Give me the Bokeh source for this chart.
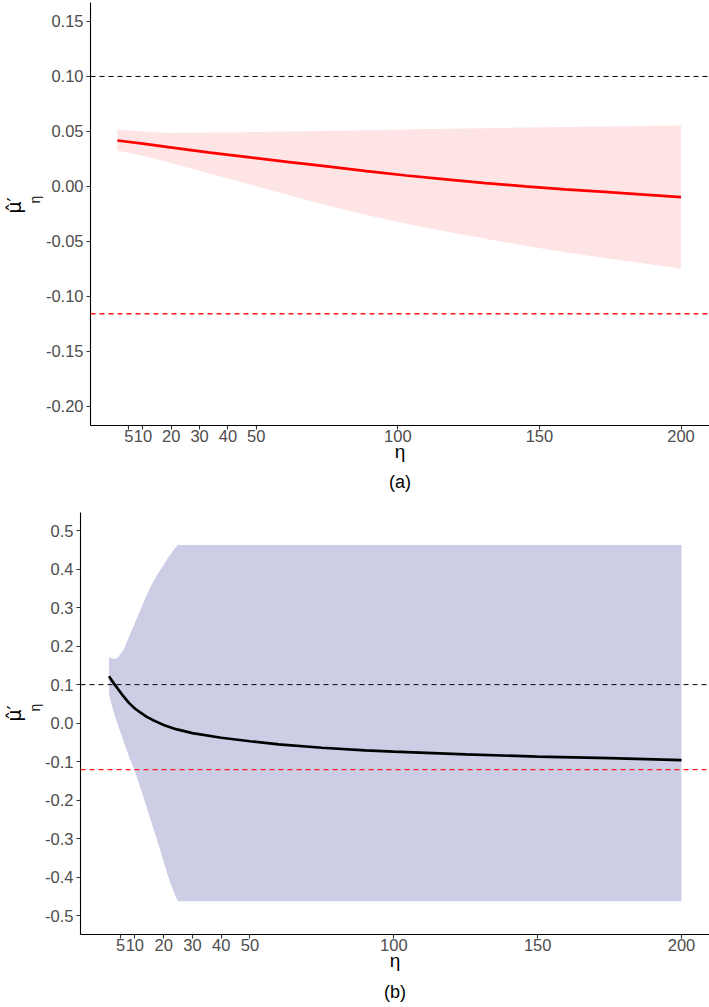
from bokeh.plotting import figure
from bokeh.models import Span, Title, FixedTicker, PrintfTickFormatter
from bokeh.embed import file_html
from bokeh.resources import INLINE

# ---------------- data ----------------
x_ticks = [5, 10, 20, 30, 40, 50, 100, 150, 200]

# panel (a)
eta_a = [1, 10, 19, 33, 47, 61, 75, 89, 103, 117, 131, 145, 159, 173, 187, 200]
mu_a = [0.0418, 0.0390, 0.0358, 0.0310, 0.0267, 0.0224, 0.0182, 0.0140, 0.0100,
        0.0065, 0.0030, 0.0001, -0.0027, -0.0050, -0.0075, -0.0097]
lo_a = [0.0327, 0.0280, 0.0221, 0.0120, 0.0024, -0.0075, -0.0173, -0.0260, -0.0340,
        -0.0410, -0.0476, -0.0540, -0.0597, -0.0650, -0.0700, -0.0748]
hi_a = [0.0518, 0.0500, 0.0485, 0.0490, 0.0494, 0.0500, 0.0505, 0.0510, 0.0518,
        0.0525, 0.0530, 0.0535, 0.0540, 0.0545, 0.0550, 0.0555]
ref_true_a = 0.10
ref_red_a = -0.1157
y_ticks_a = [-0.20, -0.15, -0.10, -0.05, 0.00, 0.05, 0.10, 0.15]

# panel (b)
eta_b = [1, 2, 3, 4, 6, 8, 10, 12, 14, 16, 18, 20, 22, 24, 25, 30, 40, 50, 60,
         75, 90, 100, 125, 150, 175, 200]
mu_b = [0.122, 0.111, 0.100, 0.090, 0.070, 0.052, 0.038, 0.027, 0.017, 0.009,
        0.002, -0.005, -0.010, -0.015, -0.017, -0.026, -0.038, -0.047, -0.055,
        -0.064, -0.071, -0.074, -0.081, -0.087, -0.091, -0.096]
hi_b = [0.171, 0.168, 0.167, 0.170, 0.189, 0.225, 0.260, 0.295, 0.331, 0.362,
        0.388, 0.411, 0.435, 0.455, 0.4625, 0.4625, 0.4625, 0.4625, 0.4625,
        0.4625, 0.4625, 0.4625, 0.4625, 0.4625, 0.4625, 0.4625]
lo_b = [0.075, 0.045, 0.020, -0.002, -0.045, -0.088, -0.125, -0.170, -0.216,
        -0.263, -0.311, -0.360, -0.408, -0.447, -0.4625, -0.4625, -0.4625,
        -0.4625, -0.4625, -0.4625, -0.4625, -0.4625, -0.4625, -0.4625, -0.4625,
        -0.4625]
ref_true_b = 0.10
ref_red_b = -0.121
y_ticks_b = [-0.5, -0.4, -0.3, -0.2, -0.1, 0.0, 0.1, 0.2, 0.3, 0.4, 0.5]

FONT = "Liberation Sans"


def make_panel(eta, mu, lo, hi, ref_true, ref_red, y_ticks, fmt, fill, line_col,
               tag, frame_left, frame_w, frame_h, ppx, x0_px, yr0, ppy,
               border_top, border_bottom, mu_off, eta_off, title_standoff):
    xr0 = (frame_left - x0_px) / ppx
    xr1 = xr0 + frame_w / ppx
    yr1 = yr0 + frame_h / ppy
    p = figure(frame_width=frame_w, frame_height=frame_h,
               x_range=(xr0, xr1), y_range=(yr0, yr1),
               output_backend="svg", toolbar_location=None,
               min_border_left=frame_left, min_border_right=0,
               min_border_top=border_top, min_border_bottom=border_bottom)
    p.outline_line_color = None
    p.xgrid.visible = False
    p.ygrid.visible = False
    p.background_fill_color = "white"
    p.border_fill_color = "white"

    p.varea(x=eta, y1=lo, y2=hi, fill_color=fill, fill_alpha=1.0)
    p.add_layout(Span(location=ref_true, dimension="width", line_color="black",
                      line_width=1, line_dash="5 4"))
    p.add_layout(Span(location=ref_red, dimension="width", line_color="#FF1A1A",
                      line_width=1.3, line_dash="5 4"))
    p.line(x=eta, y=mu, line_color=line_col, line_width=2.7, level="overlay")

    for ax in (p.xaxis[0], p.yaxis[0]):
        ax.axis_line_color = "black"
        ax.axis_line_width = 1.1
        ax.major_tick_line_color = "#333333"
        ax.major_tick_line_width = 1.1
        ax.major_tick_out = 4
        ax.major_tick_in = 0
        ax.minor_tick_out = 0
        ax.minor_tick_in = 0
        ax.major_label_text_font = FONT
        ax.major_label_text_font_size = "16.5px"
        ax.major_label_text_color = "#4D4D4D"
    xa = p.xaxis[0]
    xa.ticker = FixedTicker(ticks=x_ticks)
    xa.major_label_standoff = 0
    xa.axis_label = "\u03b7"
    xa.axis_label_text_font = FONT
    xa.axis_label_text_font_style = "normal"
    xa.axis_label_text_font_size = "19px"
    xa.axis_label_text_color = "black"
    xa.axis_label_standoff = -4

    ya = p.yaxis[0]
    ya.ticker = FixedTicker(ticks=y_ticks)
    ya.formatter = PrintfTickFormatter(format=fmt)
    ya.major_label_standoff = 3

    # y-axis title pieces: subscript eta (closest to axis), then mu-hat prime
    p.add_layout(Title(text="\u03b7", align="left", offset=eta_off, standoff=0,
                       text_font=FONT, text_font_size="14px",
                       text_font_style="normal", text_color="black"), "left")
    p.add_layout(Title(text="\u03bc\u0302\u2032", align="left", offset=mu_off,
                       standoff=0, text_font="DejaVu Sans", text_font_size="19px",
                       text_font_style="normal", text_color="black"), "left")

    # panel tag below the x-axis title
    p.title.text = tag
    p.title_location = "below"
    p.title.align = "center"
    p.title.text_font = FONT
    p.title.text_font_size = "18px"
    p.title.text_font_style = "normal"
    p.title.text_color = "black"
    p.title.standoff = title_standoff
    return p


pa = make_panel(eta_a, mu_a, lo_a, hi_a, ref_true_a, ref_red_a, y_ticks_a, "%.2f",
                "#FFE4E5", "#FF0000", "(a)",
                frame_left=90, frame_w=619, frame_h=423,
                ppx=2.832, x0_px=114.1, yr0=-0.2173, ppy=1100.0,
                border_top=2, border_bottom=72, mu_off=212, eta_off=222,
                title_standoff=10)

pb = make_panel(eta_b, mu_b, lo_b, hi_b, ref_true_b, ref_red_b, y_ticks_b, "%.1f",
                "#CDCDE6", "black", "(b)",
                frame_left=80, frame_w=629, frame_h=422,
                ppx=2.877, x0_px=105.6, yr0=-0.549, ppy=385.0,
                border_top=15, border_bottom=72, mu_off=213, eta_off=223,
                title_standoff=12)

# two independent roots (stacked), so the plot frames are not aligned
open("out.html", "w").write(file_html([pa, pb], INLINE))
